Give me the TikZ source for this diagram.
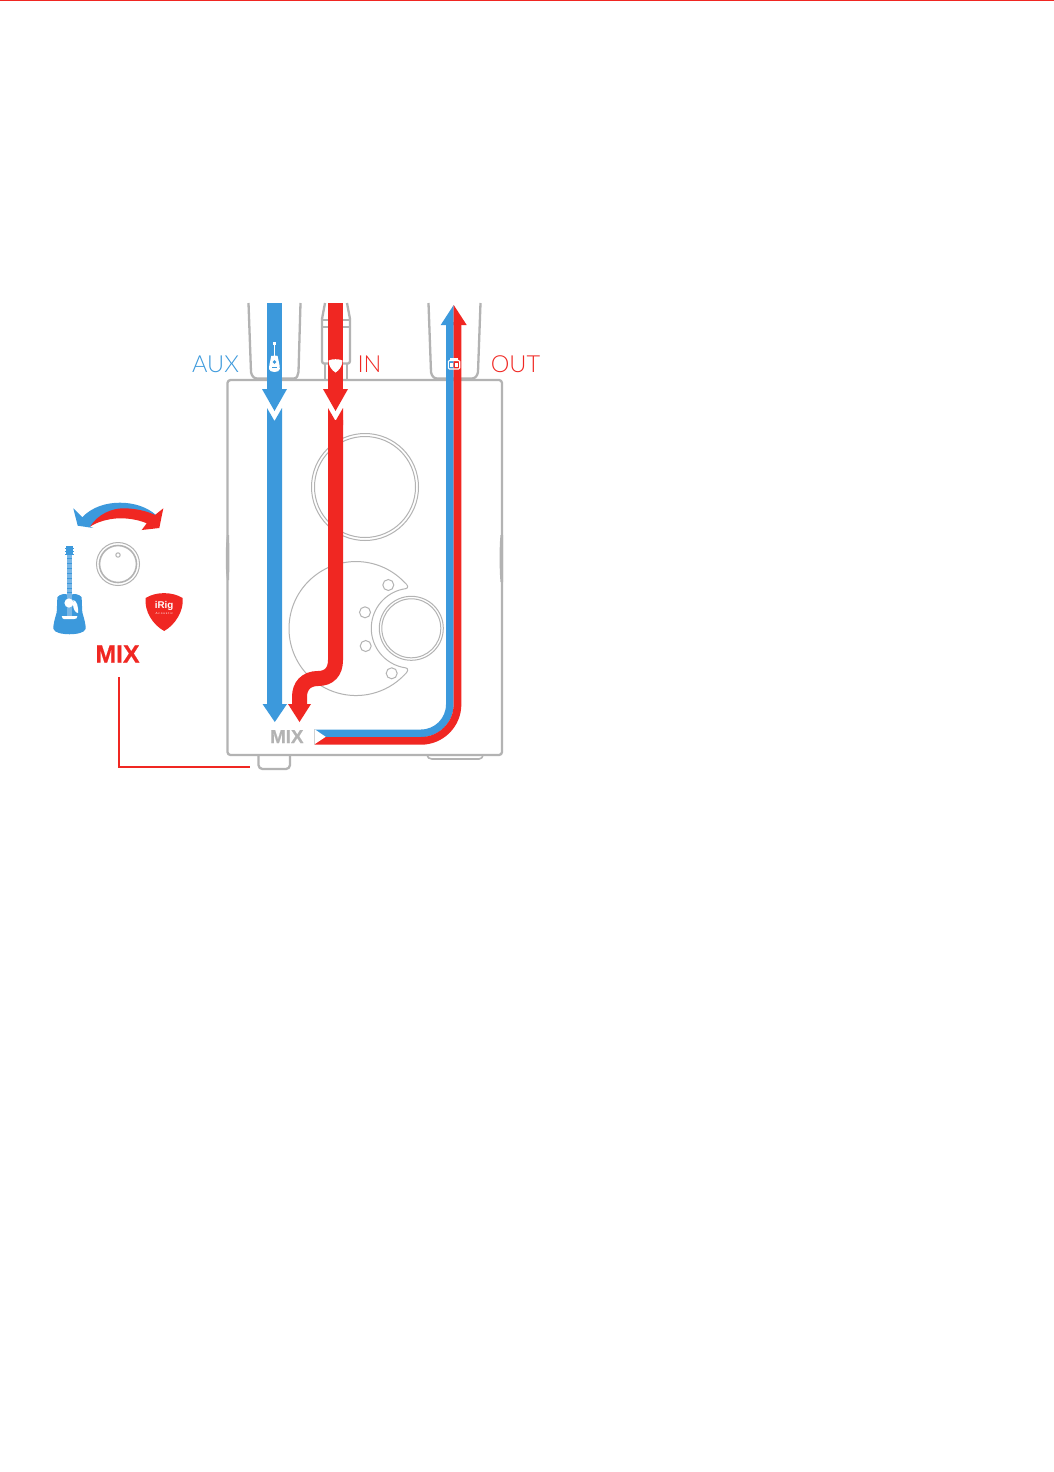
\documentclass[tikz,border=0pt]{standalone}
\usepackage{fontspec}
\setmainfont{Liberation Sans}
\newfontfamily\lightf[UprightFont={* Light}]{Lato}
\newfontfamily\heavyf[UprightFont={* Bold},FakeBold=0.7]{Liberation Sans}
\usetikzlibrary{calc}
\definecolor{bluec}{HTML}{3C99DC}
\definecolor{redc}{HTML}{F02722}
\definecolor{grayc}{HTML}{B3B3B3}
\definecolor{necklt}{HTML}{78B6E6}
\tikzset{
  device/.style={draw=grayc,line width=2.3pt,line join=round,fill=white},
  hairline/.style={draw=grayc,line width=1pt},
  label text/.style={font=\lightf\fontsize{23.5}{23.5}\selectfont,inner sep=0pt,anchor=base},
  link/.style={draw=redc,line width=1.5pt},
  band/.style={line width=7.7pt},
  flow/.style={line width=15pt},
}
\begin{document}
\begin{tikzpicture}[x=1pt,y=1pt,yscale=-1]
\useasboundingbox (0,0) rectangle (1054,1472);
\fill[white] (0,0) rectangle (1054,1472);
\fill[redc] (0,0) rectangle (1054,1.2);

% jacks
\draw[device,fill=none] (248.5,303) -- (251,372) to[out=80,in=180] (257,378.5) -- (294,378.5) to[out=0,in=100] (298.5,372) -- (300.5,303);
\draw[device,fill=none] (325,303) -- (322,319) -- (322,361) to[out=90,in=180] (324,363.5) -- (348,363.5) to[out=0,in=90] (350,361) -- (350,319) -- (347,303);
\draw[device,fill=none,line width=1.5pt] (322,320) -- (350,320) (322,327) -- (350,327);
\draw[device,fill=none] (325,364) -- (325,380) (347,364) -- (347,380);
\draw[device,fill=none] (428.5,303) -- (431,372) to[out=80,in=180] (437,378.5) -- (472,378.5) to[out=0,in=100] (478,372) -- (480.5,303);

% feet
\draw[device] (258.5,755) -- (258.5,765) to[out=90,in=180] (262.5,769) -- (286,769) to[out=0,in=90] (290,765) -- (290,755);
\draw[device,line width=1.6pt] (427,755) to[out=90,in=180] (432,759) -- (479,759) to[out=0,in=90] (483,755);

% body
\draw[device,fill=none,rounded corners=3pt] (227.5,380) rectangle (502,755);
\draw[grayc,line width=2.8pt] (376,380) -- (410,380);
\fill[grayc] (227,535) .. controls (225.5,545) and (225.2,570) .. (227,580) -- (229,580) .. controls (229.5,570) and (229.5,545) .. (229,535) -- cycle;
\fill[grayc] (500.5,535) .. controls (499.3,545) and (499.3,570) .. (500.5,582) -- (503,582) .. controls (503.3,570) and (503.3,545) .. (503,535) -- cycle;

% wheels and panel
\draw[hairline] (365,487) circle[radius=53.5pt];
\draw[hairline] (365,487) circle[radius=50.5pt];
\draw[hairline] (404.2,582) arc[start angle=-44,end angle=-316,radius=67pt]
  .. controls (408.5,671.5) and (408.5,668.5) .. (405.9,667.9)
  arc[start angle=-262.3,end angle=-97.7,radius=40pt]
  .. controls (408.5,588) and (408.5,585.5) .. (404.2,582) -- cycle;
\draw[hairline] (411.3,628.3) circle[radius=32pt];
\draw[hairline] (411.3,628.3) circle[radius=29.5pt];
\foreach \hx/\hy in {388.3/585,365/612.3,365.7/646,391.7/673.3}
  \draw[hairline] (\hx,\hy) circle[radius=5.5pt];

% AUX flow
\fill[bluec] (267,303) rectangle (282,389);
\fill[bluec] (262,389) -- (287,389) -- (274.5,411) -- cycle;
\fill[bluec] (267,408) -- (274.5,421) -- (282,408) -- (282,704) -- (267,704) -- cycle;
\fill[bluec] (262.5,704) -- (287,704) -- (274.8,722) -- cycle;

% IN flow
\fill[redc] (328,303) rectangle (343,389);
\fill[redc] (323,389) -- (348,389) -- (335.5,411) -- cycle;
\draw[redc,flow,line cap=butt] (335.5,420) -- (335.5,660)
  .. controls (335.5,672) and (329,678.5) .. (318,678.5)
  .. controls (306,678.5) and (299.5,686) .. (299.5,697) -- (299.5,705);
\fill[redc] (328,408) -- (335.5,421) -- (343,408) -- (343,425) -- (328,425) -- cycle;
\fill[redc] (288,704) -- (311,704) -- (299.5,722) -- cycle;

% OUT flow
\draw[bluec,band] (314,733.35) -- (421,733.35) arc[start angle=90,end angle=0,radius=28.85pt] -- (449.85,322);
\draw[redc,band] (314,740.85) -- (421,740.85) arc[start angle=90,end angle=0,radius=36.5pt] -- (457.5,322);
\fill[bluec] (440.7,325) -- (453.7,325) -- (453.7,305) -- cycle;
\fill[redc] (453.7,305) -- (466.7,325) -- (453.7,325) -- cycle;
\fill[white] (313.5,728.5) -- (325.7,736.8) -- (313.5,745) -- cycle;
\draw[grayc!60,line width=0.6pt] (313.8,729) -- (313.8,744.8);

% small icons on the flows
\fill[white] (273.6,343) rectangle (275.2,358);
\fill[white] (273,342) rectangle (275.8,345);
\fill[white] (271.2,356) .. controls (272.5,355.5) and (276.5,355.5) .. (277.6,356)
  .. controls (278,359) and (280,365) .. (279.8,369) .. controls (279.5,373) and (269.5,373) .. (269,369)
  .. controls (269,365) and (270.8,359) .. (271.2,356) -- cycle;
\fill[bluec] (274.5,362) circle[radius=1.8pt];
\fill[bluec] (272,367) rectangle (277,368.2);
\fill[white] (328.5,360.5) .. controls (332,358.8) and (339,358.8) .. (342.5,360.5)
  .. controls (342.5,366) and (339,370.5) .. (335.5,372.5)
  .. controls (332,370.5) and (328.5,366) .. (328.5,360.5) -- cycle;
\draw[white,line width=1.1pt,rounded corners=1pt] (448.3,360.5) rectangle (459.7,369);
\fill[white] (450,358) rectangle (458,359.5);
\fill[white] (450,363) rectangle (453,366.5);
\fill[white] (455,363) rectangle (458,366.5);

% device labels
\node[label text,text=grayc,font=\heavyf\fontsize{18.8}{18.8}\selectfont] (mixdev) at (286.8,743) {MIX};
\node[label text,text=bluec] (aux) at (215.5,372) {AUX};
\node[label text,text=redc] (in) at (369.5,372) {IN};
\node[label text,text=redc] (out) at (515.5,372) {OUT};

% knob group
\fill[bluec] (73.3,508.3) -- (82.3,517.2) .. controls (92,507) and (106,502.7) .. (120,502.7)
  .. controls (134,502.7) and (147,507) .. (156,515) -- (150,520)
  .. controls (135,510) and (105,510) .. (90,526.7) -- (93.3,528) -- (77.7,525.7) -- cycle;
\fill[redc] (163.3,508.3) -- (159.3,528) -- (141.7,530) -- (146.7,523.3)
  .. controls (138,519.5) and (127,518) .. (118,518.3)
  .. controls (107,519) and (97,522) .. (90,526.7)
  .. controls (98,514) and (112,508.3) .. (123.3,508.3)
  .. controls (135,508.3) and (147,511) .. (155,515) -- cycle;

\draw[grayc,line width=1pt] (118,564) circle[radius=21.5pt];
\draw[grayc,line width=1.6pt] (118,564) circle[radius=18.5pt];
\draw[grayc,line width=1pt] (118,555) circle[radius=2.2pt];

% guitar
\fill[bluec] (65.8,546) rectangle (72.8,555);
\foreach \fy in {548,551,554}{\fill[bluec] (64.5,\fy) rectangle (74,\fy+0.8);}
\fill[necklt] (67.3,555) rectangle (71.7,600);
\foreach \fy in {558,563,568,573,578,583,588,592}{\fill[bluec] (67.3,\fy) rectangle (71.7,\fy+0.9);}
\fill[bluec] (57.5,597) .. controls (60,594) and (65,593.5) .. (67.3,594.5) -- (71.7,594.5)
  .. controls (74,593.5) and (79,594) .. (81.5,597)
  .. controls (82.5,604) and (81.5,609) .. (82.5,613)
  .. controls (84.5,620) and (86,625) .. (85.5,629)
  .. controls (84,636) and (55,636) .. (53.5,629)
  .. controls (53,625) and (54.5,620) .. (56.5,613)
  .. controls (57.5,609) and (56.5,604) .. (57.5,597) -- cycle;
\fill[necklt] (67.3,594) rectangle (71.7,616);
\fill[white] (73.5,600) .. controls (77,601) and (78.5,607) .. (78,613)
  .. controls (75.5,613) and (73,609) .. (73,604) -- cycle;
\fill[white] (69,603) circle[radius=4.6pt];
\fill[white] (61.8,616.2) -- (77.3,616.2) .. controls (77.3,618.5) and (76,619) .. (74,619) -- (64,619) .. controls (63,619) and (61.8,618) .. (61.8,616.2) -- cycle;

% pick
\fill[redc] (145.7,598) .. controls (156,591.5) and (172,591.5) .. (182.7,598)
  .. controls (184,611) and (175,625) .. (164.2,631)
  .. controls (153,625) and (144,611) .. (145.7,598) -- cycle;
\node[text=white,font=\bfseries\fontsize{9.8}{9.8}\selectfont,inner sep=0pt] (irig) at (164.2,605.8) {iRig};
\node[text=white,font=\fontsize{3}{3}\selectfont,inner sep=0pt] (irigsub) at (164.2,613.5) {A c o u s t i c};

\node[text=redc,font=\heavyf\fontsize{24.8}{24.8}\selectfont,inner sep=0pt,anchor=base] (mix) at (117.5,662.5) {MIX};

% link
\coordinate (linkstart) at (119,677);
\coordinate (linkend) at (250,767);
\draw[link] (linkstart) |- (linkend);
\end{tikzpicture}
\end{document}
